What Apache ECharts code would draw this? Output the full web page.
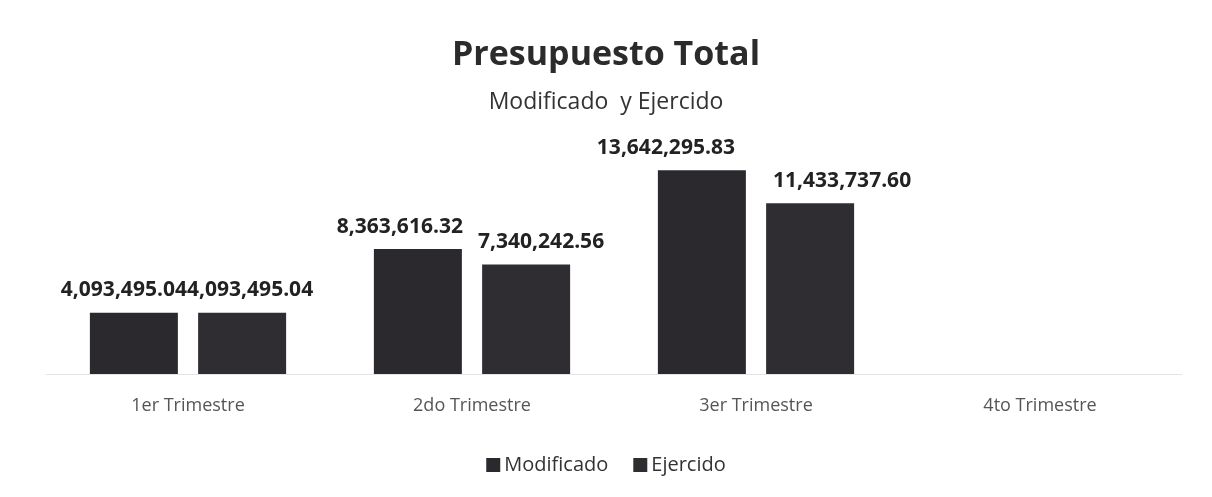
<!DOCTYPE html>
<html>
<head>
<meta charset="utf-8">
<script src="https://cdn.jsdelivr.net/npm/echarts@6/dist/echarts.min.js"></script>
<style>
    html, body { margin: 0; padding: 0; background: #fff; }
    #chart { width: 1212px; height: 497px; }
</style>
</head>
<body>
<div id="chart"></div>
<script>
var trimestres = ['1er Trimestre', '2do Trimestre', '3er Trimestre', '4to Trimestre']
var modificado = [4093495.04, 8363616.32, 13642295.83, null]
var ejercido = [4093495.04, 7340242.56, 11433737.60, null]

// Excel empuja algunas etiquetas a los lados para que no choquen
var shiftMod = [-10, -18, -36, 0]
var shiftEje = [8, 15, 32, 0]

function fmt (v) {
    return v.toLocaleString('en-US', {minimumFractionDigits: 2, maximumFractionDigits: 2})
}

function withShift (values, shifts) {
    return values.map(function (v, i) {
        return {value: v, label: {offset: [shifts[i], 0]}}
    })
}

var myecharts = echarts.init(document.getElementById('chart'))
var labelOption = {
    show: true,
    position: 'top',
    distance: 12,
    fontFamily: 'Open Sans',
    fontWeight: 'bold',
    fontSize: 21,
    color: '#222',
    formatter: function (p) { return p.value == null ? '' : fmt(p.value) }
}
var option = {
    animation: false,
    textStyle: { fontFamily: 'Open Sans' },
    title: {
        text: 'Presupuesto Total',
        subtext: 'Modificado  y Ejercido',
        left: 'center',
        top: 33,
        itemGap: 19,
        textStyle: { fontFamily: 'Open Sans', fontWeight: 'bold', fontSize: 34, color: '#2b2b2b' },
        subtextStyle: { fontFamily: 'Open Sans', fontSize: 23, color: '#333' }
    },
    legend: {
        top: 450,
        left: 'center',
        itemWidth: 14,
        itemHeight: 14,
        itemGap: 25,
        icon: 'rect',
        textStyle: { fontFamily: 'Open Sans', fontSize: 20, color: '#333', padding: [0, 0, 0, -1] },
        data: ['Modificado', 'Ejercido']
    },
    grid: { left: 46, right: 30, top: 150, bottom: 123 },
    xAxis: {
        type: 'category',
        data: trimestres,
        axisTick: { show: false },
        axisLine: { lineStyle: { color: '#e4e4e4' } },
        axisLabel: { margin: 23, fontFamily: 'Open Sans', fontSize: 18, color: '#555' }
    },
    yAxis: {
        type: 'value',
        min: 0,
        max: 15000000,
        show: false,
        splitLine: { show: false }
    },
    series: [
        {
            name: 'Modificado',
            type: 'bar',
            barWidth: 88,
            barGap: '23%',
            itemStyle: { color: '#2b292d' },
            label: labelOption,
            data: withShift(modificado, shiftMod)
        },
        {
            name: 'Ejercido',
            type: 'bar',
            barWidth: 88,
            itemStyle: { color: '#2f2d32' },
            label: labelOption,
            data: withShift(ejercido, shiftEje)
        }
    ]
}
myecharts.setOption(option)
</script>
</body>
</html>
